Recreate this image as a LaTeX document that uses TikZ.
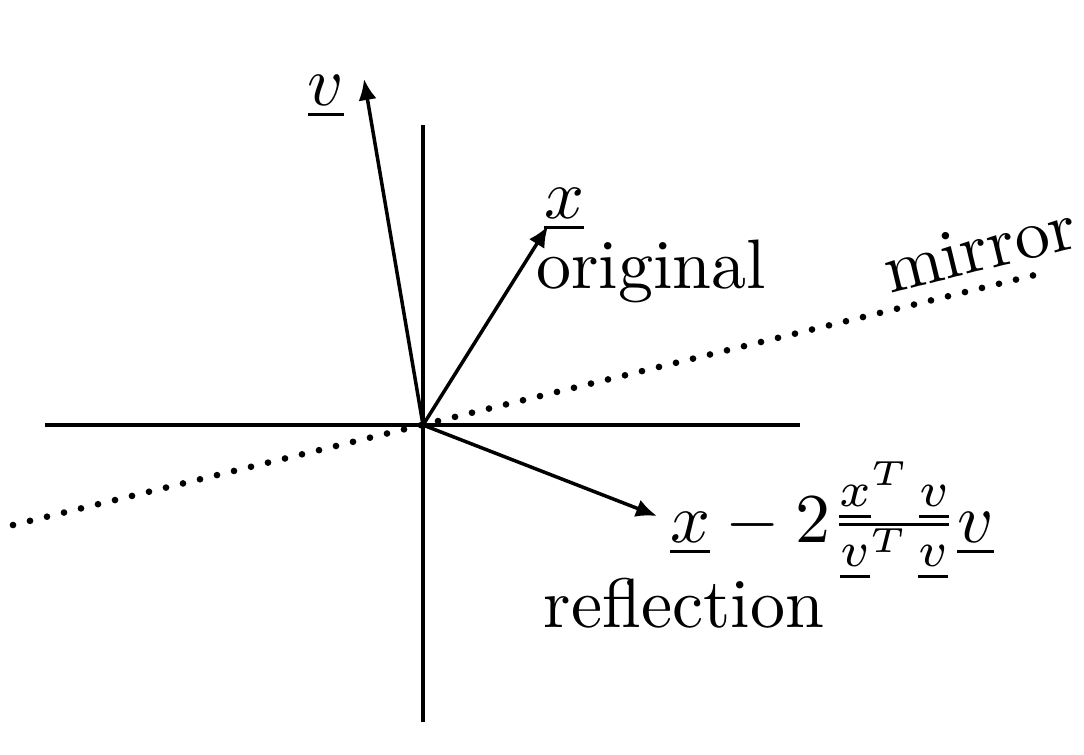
\documentclass[tikz,border=0pt]{standalone}
\usetikzlibrary{arrows.meta}
\begin{document}
\begin{tikzpicture}[x=0.142857pt,y=-0.142857pt,
  font=\fontsize{10}{12}\selectfont,
  axis/.style={line width=0.5pt},
  vec/.style={line width=0.5pt,-{Latex[length=3pt,width=2.6pt]}},
  dotline/.style={line width=0.95pt,line cap=round,dash pattern=on 0pt off 2.5pt},
  lbl/.style={inner sep=0pt,anchor=base}]
\useasboundingbox (0,0) rectangle (1084,754);
\coordinate (O) at (423,425);
\coordinate (xl) at (45,425);
\coordinate (xr) at (800,425);
\coordinate (yt) at (423,125);
\coordinate (yb) at (423,722);
\coordinate (ml) at (13,525);
\coordinate (mr) at (1047,272);
\coordinate (vt) at (364,79);
\coordinate (xt) at (548,226);
\coordinate (rt) at (657,516);
\draw[axis] (xl) -- (xr);
\draw[axis] (yt) -- (yb);
\draw[dotline] (ml) -- (mr);
\draw[vec] (O) -- (vt);
\draw[vec] (O) -- (xt);
\draw[vec] (O) -- (rt);
\node[lbl] (vlab) at (326,105) {$\underline{v}$};
\node[lbl] (xlab) at (564,218) {$\underline{x}$};
\node[lbl] (orig) at (651,288) {original};
\node[lbl] (form) at (832,542) {$\underline{x}-2\frac{\underline{x}^T\,\underline{v}}{\underline{v}^T\,\underline{v}}\underline{v}$};
\node[lbl] (refl) at (684,627) {reflection};
\node[lbl,rotate=13.7] (mirr) at (985,270) {mirror};
\end{tikzpicture}
\end{document}
